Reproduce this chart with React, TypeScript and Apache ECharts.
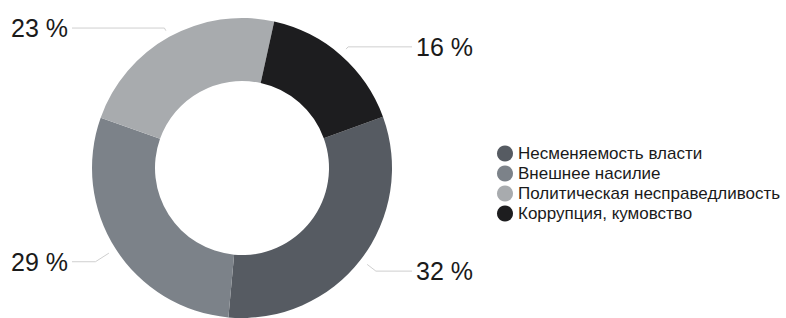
import React, { useEffect, useRef } from "react";
import * as echarts from "echarts";

const categories = [
  "Несменяемость власти",
  "Внешнее насилие",
  "Политическая несправедливость",
  "Коррупция, кумовство",
];
const values = [32, 29, 23, 16];
const colors = ["#565b62", "#7c8289", "#a8abae", "#1d1d1f"];
const lineLengths = [19, 24, 10, 11];

export default function App() {
  const ref = useRef<HTMLDivElement>(null);
  useEffect(() => {
    document.body.style.margin = "0";
    const chart = echarts.init(ref.current!, undefined, { renderer: "svg" });
    const font = "'Liberation Sans', Arial, Helvetica, sans-serif";
    chart.setOption({
      animation: false,
      backgroundColor: "#ffffff",
      color: colors,
      legend: {
        orient: "vertical",
        left: 492,
        top: 140,
        icon: "circle",
        itemWidth: 16,
        itemHeight: 16,
        itemGap: 3,
        selectedMode: false,
        textStyle: { fontSize: 17, color: "#1a1a1a", fontFamily: font, padding: [0, 0, 0, 0] },
        data: categories,
      },
      series: [
        {
          type: "pie",
          left: 0,
          top: 0,
          width: 484,
          height: 336,
          center: ["50%", "50%"],
          radius: [87, 150],
          startAngle: 20,
          clockwise: true,
          avoidLabelOverlap: false,
          label: {
            show: true,
            position: "outside",
            formatter: "{c} %",
            fontSize: 25,
            color: "#1a1a1a",
            fontFamily: font,
            alignTo: "edge",
            edgeDistance: 11,
          },
          labelLine: {
            show: true,
            length: 12,
            length2: 20,
            lineStyle: { color: "#cfcfcf", width: 1 },
          },
          labelLayout: (params: any) => {
            const pts = params.labelLinePoints;
            if (!pts || pts.length < 3) return {};
            const p0 = pts[0];
            const p1 = pts[1];
            const dx = p1[0] - p0[0];
            const dy = p1[1] - p0[1];
            const d = Math.hypot(dx, dy) || 1;
            const g = Math.max(0, Math.min(8, d - 3));
            const np0 = [p0[0] + (dx / d) * g, p0[1] + (dy / d) * g];
            const r = params.labelRect;
            const right = r.x > p1[0];
            const endX = right ? r.x - 4 : r.x + r.width + 4;
            return { labelLinePoints: [np0, p1, [endX, p1[1]]] };
          },
          emphasis: { disabled: true },
          data: categories.map((name, i) => ({
            name,
            value: values[i],
            labelLine: { length: lineLengths[i] },
          })),
        },
      ],
    });
    return () => chart.dispose();
  }, []);
  return <div ref={ref} style={{ width: 786, height: 318 }} />;
}
